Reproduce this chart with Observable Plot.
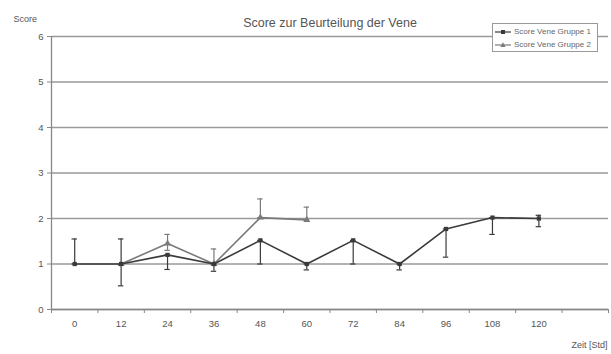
<!DOCTYPE html>
<html><head><meta charset="utf-8">
<script src="https://cdn.jsdelivr.net/npm/d3@7"></script>
<script src="https://cdn.jsdelivr.net/npm/@observablehq/plot@0.6"></script>
<style>
body{margin:0;background:#fff;}
#wrap{position:relative;width:611px;height:354px;font-family:"Liberation Sans",Arial,sans-serif;}
#legend{position:absolute;left:492px;top:23px;width:106px;height:29px;border:1px solid #999;background:#fff;font-size:8px;color:#666;box-sizing:border-box;padding-top:1px;white-space:nowrap;overflow:hidden;}
#legend .row{display:flex;align-items:center;height:13px;}
#legend svg{margin-left:2px;margin-right:3px;flex:none;}
</style></head><body><div id="wrap"><div id="legend"></div></div>
<script>
const title = "Score zur Beurteilung der Vene";
const yLabel = "Score";
const xLabel = "Zeit [Std]";
const seriesNames = ["Score Vene Gruppe 1", "Score Vene Gruppe 2"];
const xDomain = [-6, 138];
const hourTicks = [0, 12, 24, 36, 48, 60, 72, 84, 96, 108, 120];
const categoryBounds = [-6, 6, 18, 30, 42, 54, 66, 78, 90, 102, 114, 126, 138];
const yTicks = [0, 1, 2, 3, 4, 5, 6];

const g1Hours = [0, 12, 24, 36, 48, 60, 72, 84, 96, 108, 120];
const g1Score = [1.0, 1.0, 1.2, 1.0, 1.52, 1.0, 1.52, 1.0, 1.77, 2.02, 2.0];
const g1Low   = [1.0, 0.52, 0.88, 0.84, 1.0, 0.87, 1.0, 0.87, 1.15, 1.65, 1.82];
const g1High  = [1.55, 1.55, 1.2, 1.0, 1.52, 1.0, 1.52, 1.0, 1.77, 2.02, 2.07];

const g2Hours = [12, 24, 36, 48, 60];
const g2Score = [1.0, 1.45, 1.0, 2.02, 1.97];
const g2Low   = [1.0, 1.3, 1.0, 2.02, 1.97];
const g2High  = [1.0, 1.65, 1.33, 2.43, 2.25];

const c1 = "#3a3a3a", c2 = "#7a7a7a";
const g1 = g1Hours.map((h, i) => ({h, s: g1Score[i], lo: g1Low[i], hi: g1High[i]}));
const g2 = g2Hours.map((h, i) => ({h, s: g2Score[i], lo: g2Low[i], hi: g2High[i]}));
const cap = 0.7;
const caps = (d) => d.flatMap(p => [{y: p.lo, x1: p.h - cap, x2: p.h + cap}, {y: p.hi, x1: p.h - cap, x2: p.h + cap}]);

const chart = Plot.plot({
  width: 611, height: 354,
  marginLeft: 51, marginRight: 3, marginTop: 36, marginBottom: 45,
  x: {type: "linear", domain: xDomain},
  y: {domain: [yTicks[0], yTicks[yTicks.length - 1]]},
  style: {fontFamily: '"Liberation Sans", Arial, sans-serif', fontSize: "9.5px", color: "#555", background: "white"},
  marks: [
    Plot.gridY(yTicks, {stroke: "#9a9a9a", strokeOpacity: 1, strokeWidth: 1.3}),
    Plot.ruleX([xDomain[0]], {stroke: "#888", strokeWidth: 1.3}),
    Plot.ruleY([yTicks[0]], {stroke: "#888", strokeWidth: 1.3}),
    Plot.axisY({ticks: yTicks, tickSize: 4, tickPadding: 4, tickFormat: "d", label: null, stroke: "#888"}),
    Plot.axisX({ticks: hourTicks, tickSize: 0, tickPadding: 11, tickFormat: "d", label: null}),
    Plot.axisX({ticks: categoryBounds, tickSize: 4, tickFormat: () => "", label: null, stroke: "#888"}),
    Plot.ruleX(g2, {x: "h", y1: "lo", y2: "hi", stroke: c2, strokeWidth: 1.2}),
    Plot.ruleY(caps(g2), {y: "y", x1: "x1", x2: "x2", stroke: c2, strokeWidth: 1.2}),
    Plot.ruleX(g1, {x: "h", y1: "lo", y2: "hi", stroke: c1, strokeWidth: 1.2}),
    Plot.ruleY(caps(g1), {y: "y", x1: "x1", x2: "x2", stroke: c1, strokeWidth: 1.2}),
    Plot.line(g2, {x: "h", y: "s", stroke: c2, strokeWidth: 1.6}),
    Plot.dot(g2, {x: "h", y: "s", symbol: "triangle", r: 2.6, fill: c2}),
    Plot.line(g1, {x: "h", y: "s", stroke: c1, strokeWidth: 1.6}),
    Plot.dot(g1, {x: "h", y: "s", symbol: "square", r: 2.4, fill: c1}),
    Plot.text([title], {frameAnchor: "top", dy: -18, fontSize: 12.5, fill: "#555"}),
    Plot.text([yLabel], {frameAnchor: "top-left", textAnchor: "start", dx: -38, dy: -21, fontSize: 9, fill: "#555"}),
    Plot.text([xLabel], {frameAnchor: "bottom-right", textAnchor: "end", dx: -1, dy: 38, fontSize: 9, fill: "#555"})
  ]
});
document.getElementById("wrap").prepend(chart);

const legend = document.getElementById("legend");
const sym = [
  `<svg width="16" height="8"><line x1="0" y1="4" x2="16" y2="4" stroke="${c1}" stroke-width="1.2"/><rect x="6" y="2" width="4" height="4" fill="${c1}"/></svg>`,
  `<svg width="16" height="8"><line x1="0" y1="4" x2="16" y2="4" stroke="${c2}" stroke-width="1.2"/><path d="M8,1.2 L10.6,6 L5.4,6 Z" fill="${c2}"/></svg>`
];
seriesNames.forEach((n, i) => {
  const r = document.createElement("div");
  r.className = "row";
  r.innerHTML = sym[i] + `<span>${n}</span>`;
  legend.appendChild(r);
});
</script>
</body></html>
